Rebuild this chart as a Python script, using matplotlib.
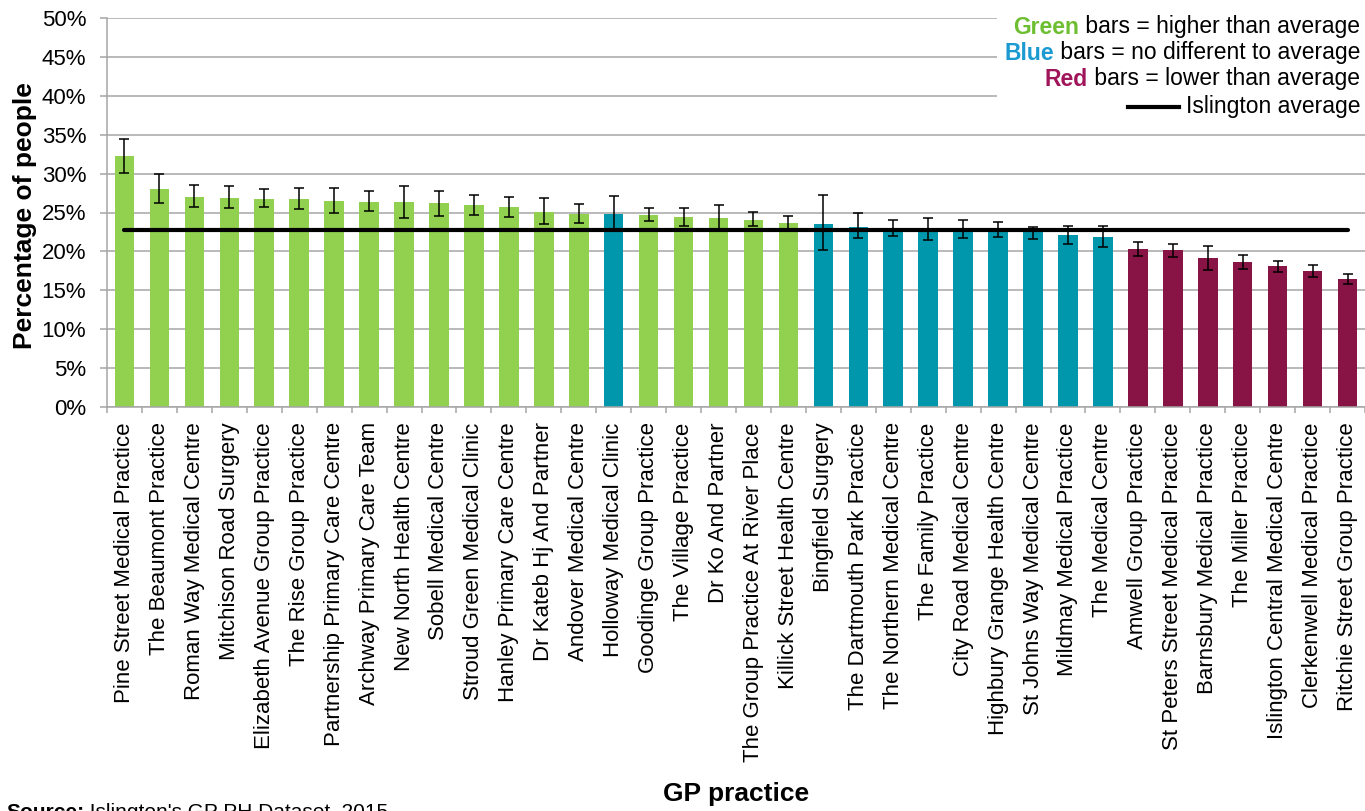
import matplotlib
matplotlib.use("Agg")
import matplotlib.pyplot as plt
from matplotlib.lines import Line2D
from matplotlib.patches import Rectangle
from matplotlib.text import Annotation
import numpy as np

plt.rcParams["font.family"] = ["Liberation Sans", "DejaVu Sans"]

# ---- data (percent) ----
PRACTICES = [
    "Pine Street Medical Practice", "The Beaumont Practice", "Roman Way Medical Centre",
    "Mitchison Road Surgery", "Elizabeth Avenue Group Practice", "The Rise Group Practice",
    "Partnership Primary Care Centre", "Archway Primary Care Team", "New North Health Centre",
    "Sobell Medical Centre", "Stroud Green Medical Clinic", "Hanley Primary Care Centre",
    "Dr Kateb Hj And Partner", "Andover Medical Centre", "Holloway Medical Clinic",
    "Goodinge Group Practice", "The Village Practice", "Dr Ko And Partner",
    "The Group Practice At River Place", "Killick Street Health Centre", "Bingfield Surgery",
    "The Dartmouth Park Practice", "The Northern Medical Centre", "The Family Practice",
    "City Road Medical Centre", "Highbury Grange Health Centre", "St Johns Way Medical Centre",
    "Mildmay Medical Practice", "The Medical Centre", "Amwell Group Practice",
    "St Peters Street Medical Practice", "Barnsbury Medical Practice", "The Miller Practice",
    "Islington Central Medical Centre", "Clerkenwell Medical Practice", "Ritchie Street Group Practice",
]
VALUES = [32.2, 28.0, 27.0, 26.9, 26.7, 26.7, 26.5, 26.4, 26.3, 26.2,
          25.9, 25.7, 25.1, 24.8, 24.8, 24.7, 24.4, 24.3, 24.1, 23.6,
          23.5, 23.2, 23.0, 22.8, 22.8, 22.8, 22.5, 22.1, 21.9, 20.3,
          20.2, 19.2, 18.6, 18.1, 17.5, 16.4]
CI_LOW = [30.1, 26.2, 25.7, 25.6, 25.7, 25.5, 24.9, 25.2, 24.3, 24.6,
          24.7, 24.4, 23.5, 23.7, 22.7, 23.9, 23.3, 22.9, 23.3, 22.8,
          20.2, 21.7, 22.0, 21.5, 21.7, 21.85, 21.6, 21.0, 20.6, 19.4,
          19.3, 17.6, 17.8, 17.4, 16.7, 15.8]
CI_HIGH = [34.4, 30.0, 28.5, 28.4, 28.0, 28.1, 28.2, 27.8, 28.4, 27.7,
           27.2, 27.0, 26.9, 26.1, 27.1, 25.6, 25.6, 25.9, 25.1, 24.5,
           27.2, 25.0, 24.0, 24.3, 24.0, 23.8, 23.2, 23.3, 23.3, 21.2,
           21.0, 20.7, 19.5, 18.8, 18.3, 17.1]
STATUS = ["G"] * 14 + ["B"] + ["G"] * 5 + ["B"] * 9 + ["R"] * 7
ISLINGTON_AVG = 22.7

BAR_COLORS = {"G": "#92D050", "B": "#0097AC", "R": "#881445"}
WORD_COLORS = {"G": "#6DBE30", "B": "#1A9AD0", "R": "#A0145A"}
GRID = "#A6A6A6"

W, H = 1365, 811
fig = plt.figure(figsize=(W / 100, H / 100), dpi=100)
ax = fig.add_axes([107 / W, 1 - 407 / H, 1258 / W, 389 / H])

x = np.arange(len(PRACTICES))
vals = np.array(VALUES)
yerr = np.vstack([vals - np.array(CI_LOW), np.array(CI_HIGH) - vals])

ax.bar(x, vals, width=0.56, color=[BAR_COLORS[s] for s in STATUS], zorder=2)
ax.plot([x[0], x[-1]], [ISLINGTON_AVG, ISLINGTON_AVG], color="black", lw=3, zorder=3,
        solid_capstyle="round")
ax.errorbar(x, vals, yerr=yerr, fmt="none", ecolor="black", elinewidth=1.1,
            capsize=3.5, capthick=1.1, zorder=4)

ax.set_xlim(-0.5, len(PRACTICES) - 0.5)
ax.set_ylim(0, 50)
ax.set_yticks(np.arange(0, 51, 5))
ax.set_yticklabels([f"{v}%" for v in range(0, 51, 5)], fontsize=16)
ax.yaxis.grid(True, color=GRID, lw=1.1, zorder=0)
ax.set_axisbelow(True)

ax.set_xticks(x)
ax.set_xticklabels(PRACTICES, rotation=90, fontsize=16, va="top", ha="center")
ax.set_xticks(np.arange(-0.5, len(PRACTICES), 1), minor=True)
ax.tick_params(axis="x", which="major", length=0, pad=11)
ax.tick_params(axis="x", which="minor", length=4.5, color=GRID, width=1.1)
ax.tick_params(axis="y", length=5, color=GRID, width=1.1, pad=10)

for side in ("top", "right"):
    ax.spines[side].set_visible(False)
for side in ("left", "bottom"):
    ax.spines[side].set_color(GRID)
    ax.spines[side].set_linewidth(1.1)

# axis titles
fig.text(25 / W, 1 - 216 / H, "Percentage of people", rotation=90, fontsize=19,
         fontweight="bold", ha="center", va="center")
fig.text(736 / W, 1 - 794 / H, "GP practice", fontsize=19, fontweight="bold",
         ha="center", va="center")

# legend block (white background hides gridlines)
fig.add_artist(Rectangle((997 / W, 1 - 120 / H), (W - 997) / W, 120 / H,
                         transform=fig.transFigure, facecolor="white",
                         edgecolor="none", zorder=1))
rows = [("G", "Green", " bars = higher than average", 27),
        ("B", "Blue", " bars = no different to average", 53),
        ("R", "Red", " bars = lower than average", 79)]
for key, word, rest, ypx in rows:
    t = fig.text(1360 / W, 1 - ypx / H, rest, fontsize=16.5, ha="right", va="center",
                 zorder=3)
    ann = Annotation(word, xy=(0, 0), xycoords=t, ha="right", va="bottom",
                     fontsize=16.5, fontweight="bold", color=WORD_COLORS[key],
                     annotation_clip=False)
    ann.set_zorder(3)
    fig.add_artist(ann)
fig.text(1360 / W, 1 - 106 / H, "Islington average", fontsize=16.5, ha="right",
         va="center", zorder=3)
fig.add_artist(Line2D([1128 / W, 1179 / W], [1 - 107 / H, 1 - 107 / H],
                      transform=fig.transFigure, color="black", lw=3, zorder=3))

# source note (cut off at the bottom edge, as in the original)
s = fig.text(6 / W, 1 - 803 / H, "Source:", fontsize=15, fontweight="bold",
             ha="left", va="top")
src = Annotation(" Islington's GP PH Dataset, 2015", xy=(1, 0), xycoords=s, ha="left",
                 va="bottom", fontsize=15, annotation_clip=False)
fig.add_artist(src)

fig.savefig("out.png", dpi=100, facecolor="white")
